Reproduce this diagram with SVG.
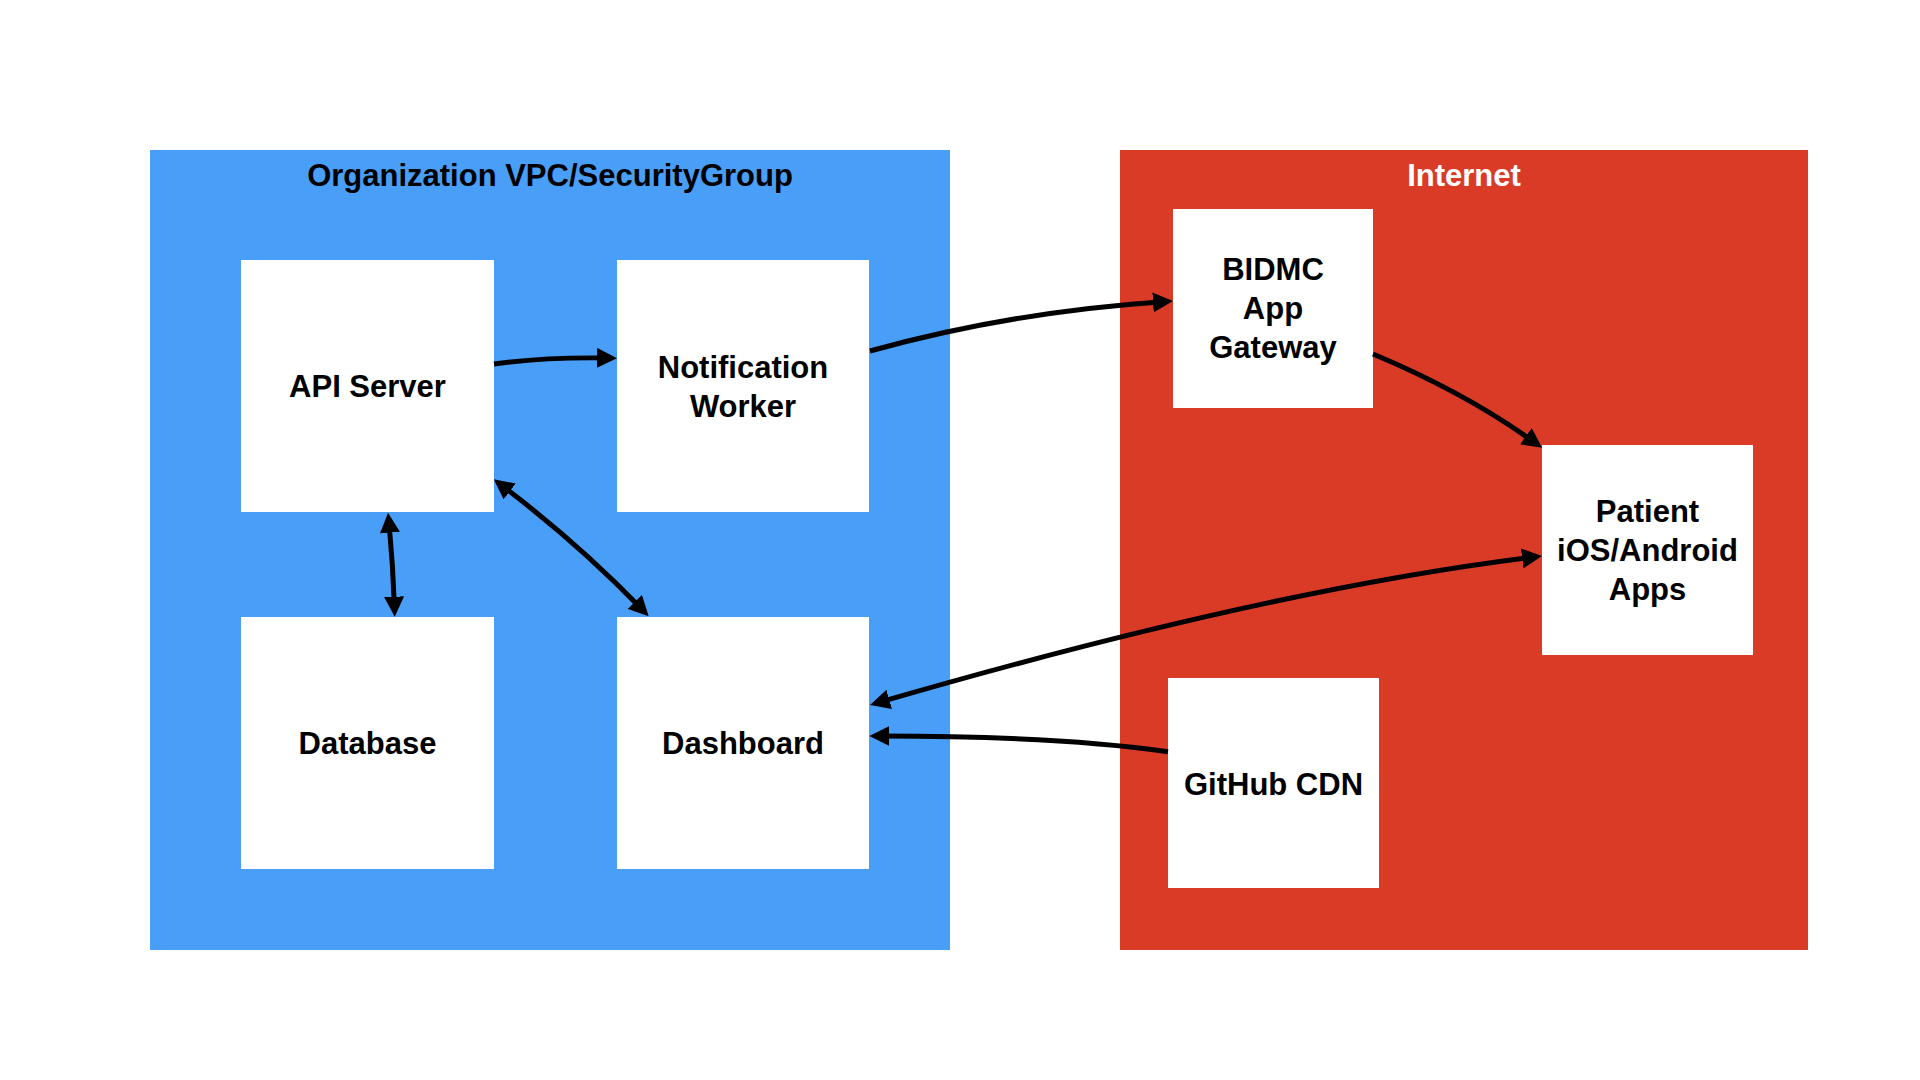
<svg xmlns="http://www.w3.org/2000/svg" width="1920" height="1080" viewBox="0 0 1920 1080">
  <style>
    .node rect { fill: #ffffff; }
    .lbl { font-family: "Liberation Sans", Arial, Helvetica, sans-serif; font-weight: bold; font-size: 31px; fill: #000000; text-anchor: middle; }
    .title-dark { font-family: "Liberation Sans", Arial, Helvetica, sans-serif; font-weight: bold; font-size: 31px; fill: #000000; text-anchor: middle; }
    .title-light { font-family: "Liberation Sans", Arial, Helvetica, sans-serif; font-weight: bold; font-size: 31px; fill: #ffffff; text-anchor: middle; }
    .conn { fill: none; stroke: #000000; stroke-width: 5; }
  </style>
  <defs>
    <marker id="ah" viewBox="0 0 20 20" refX="10" refY="10" markerWidth="20" markerHeight="20" markerUnits="userSpaceOnUse" orient="auto-start-reverse">
      <path d="M0,0 L20,10 L0,20 z" fill="#000000"/>
    </marker>
  </defs>
  <rect width="1920" height="1080" fill="#ffffff"/>

  <g id="vpc">
    <rect x="150" y="150" width="800" height="800" fill="#499EF7"/>
    <text class="title-dark" x="550" y="186">Organization VPC/SecurityGroup</text>
  </g>
  <g id="internet">
    <rect x="1120" y="150" width="688" height="800" fill="#DA3B26"/>
    <text class="title-light" x="1464" y="186">Internet</text>
  </g>

  <g id="api-server" class="node">
    <rect x="241" y="260" width="253" height="252"/>
    <text class="lbl" x="367.5" y="397">API Server</text>
  </g>
  <g id="notification-worker" class="node">
    <rect x="617" y="260" width="252" height="252"/>
    <text class="lbl" x="743" y="378">Notification</text>
    <text class="lbl" x="743" y="417">Worker</text>
  </g>
  <g id="database" class="node">
    <rect x="241" y="617" width="253" height="252"/>
    <text class="lbl" x="367.5" y="754">Database</text>
  </g>
  <g id="dashboard" class="node">
    <rect x="617" y="617" width="252" height="252"/>
    <text class="lbl" x="743" y="754">Dashboard</text>
  </g>
  <g id="bidmc-gateway" class="node">
    <rect x="1173" y="209" width="200" height="199"/>
    <text class="lbl" x="1273" y="280">BIDMC</text>
    <text class="lbl" x="1273" y="319">App</text>
    <text class="lbl" x="1273" y="358">Gateway</text>
  </g>
  <g id="patient-apps" class="node">
    <rect x="1542" y="445" width="211" height="210"/>
    <text class="lbl" x="1647.5" y="522">Patient</text>
    <text class="lbl" x="1647.5" y="561">iOS/Android</text>
    <text class="lbl" x="1647.5" y="600">Apps</text>
  </g>
  <g id="github-cdn" class="node">
    <rect x="1168" y="678" width="211" height="210"/>
    <text class="lbl" x="1273.5" y="795">GitHub CDN</text>
  </g>

  <g id="connectors">
    <path class="conn" d="M494,364 Q545,357 607,358" marker-end="url(#ah)"/>
    <path class="conn" d="M870,351 Q1010,312 1163,301.7" marker-end="url(#ah)"/>
    <path class="conn" d="M1373,354 Q1466,393 1534,442" marker-end="url(#ah)"/>
    <path class="conn" d="M389,522.7 Q393,565 394.4,606.7" marker-start="url(#ah)" marker-end="url(#ah)"/>
    <path class="conn" d="M501.7,485.4 Q578,543 641.7,609.1" marker-start="url(#ah)" marker-end="url(#ah)"/>
    <path class="conn" d="M879.6,702.2 Q1266,590 1532.1,557.2" marker-start="url(#ah)" marker-end="url(#ah)"/>
    <path class="conn" d="M1168,751.7 Q1060,736 879.3,736" marker-end="url(#ah)"/>
  </g>
</svg>
